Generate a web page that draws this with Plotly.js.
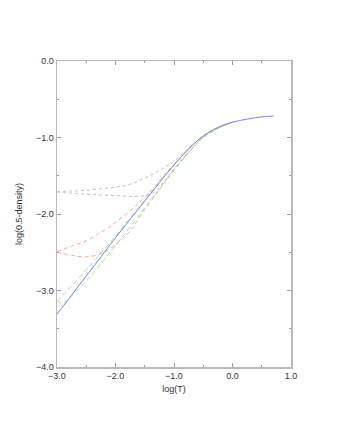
<!DOCTYPE html>
<html>
<head>
<meta charset="utf-8">
<script src="https://cdn.plot.ly/plotly-3.0.1.min.js"></script>
<style>
  body { margin: 0; background: #fff; }
  #chart { width: 341px; height: 441px; }
</style>
</head>
<body>
<div id="chart"></div>
<script>
// log(T) grid used by the curves
const logT = [-3.0, -2.75, -2.5, -2.25, -2.0, -1.75, -1.5, -1.25, -1.0, -0.75, -0.5, -0.25, 0.0];
const logTLong = [-3.0, -2.75, -2.5, -2.25, -2.0, -1.75, -1.5, -1.25, -1.0, -0.75, -0.5, -0.25, 0.0, 0.25, 0.5, 0.7];

// solid blue curve
const blueY = [-3.31, -3.06, -2.81, -2.56, -2.31, -2.07, -1.83, -1.59, -1.36, -1.15, -0.98, -0.87, -0.80, -0.76, -0.73, -0.72];

// gray curves
const grayUpperY = [-1.71, -1.70, -1.69, -1.67, -1.65, -1.61, -1.53, -1.43, -1.31, -1.14, -0.98, -0.87, -0.80];
const grayLowerX = [-3.0, -2.5, -2.0, -1.75, -1.5, -1.35, -1.25, -1.0, -0.75, -0.5, -0.25, 0.0];
const grayLowerY = [-1.71, -1.74, -1.76, -1.77, -1.76, -1.72, -1.65, -1.41, -1.19, -1.00, -0.88, -0.80];

// red dashed curves
const redUpperY = [-2.49, -2.42, -2.35, -2.24, -2.11, -1.96, -1.78, -1.57, -1.35, -1.15, -0.98, -0.87, -0.80];
const redLowerY = [-2.50, -2.54, -2.56, -2.52, -2.40, -2.22, -1.94, -1.68, -1.43, -1.20, -1.00, -0.88, -0.80];

// green dashed curves
const greenUpperY = [-3.14, -2.94, -2.73, -2.51, -2.29, -2.05, -1.82, -1.58, -1.36, -1.15, -0.98, -0.87, -0.80];
const greenLowerX = [-3.0, -2.9, -2.75, -2.5, -2.25, -2.0, -1.75, -1.5, -1.25, -1.0, -0.75, -0.5, -0.25, 0.0];
const greenLowerY = [-3.13, -3.17, -3.07, -2.88, -2.65, -2.41, -2.17, -1.92, -1.67, -1.42, -1.19, -1.00, -0.88, -0.80];

const xTicks = [-3, -2, -1, 0, 1];
const yTicks = [0, -1, -2, -3, -4];

function line(x, y, color, dash) {
    return {
        x: x, y: y, type: 'scatter', mode: 'lines',
        line: { color: color, width: 1, dash: dash, shape: 'spline', smoothing: 1 },
        hoverinfo: 'skip', showlegend: false
    };
}

const data = [
    line(logT, grayUpperY, '#c0c0c0', 'dot'),
    line(grayLowerX, grayLowerY, '#c0c0c0', 'dot'),
    line(logT, redUpperY, '#ffa4a4', '4px,3px'),
    line(logT, redLowerY, '#ffa4a4', '4px,3px'),
    line(logT, greenUpperY, '#90f090', '5px,3px'),
    line(greenLowerX, greenLowerY, '#90f090', '5px,3px'),
    line(logTLong, blueY, '#8080ff', 'solid')
];

const axisCommon = {
    showgrid: false,
    zeroline: false,
    showline: true,
    linecolor: '#b8b8b8',
    linewidth: 1.5,
    mirror: 'ticks',
    ticks: 'inside',
    ticklen: 4,
    tickcolor: '#999',
    tickwidth: 1,
    tickformat: '.1f',
    tickfont: { family: 'Liberation Sans, Arial, sans-serif', size: 9, color: '#333' },
    minor: { dtick: 0.5, ticks: 'inside', ticklen: 2, tickcolor: '#999', showgrid: false }
};

const layout = {
    width: 341,
    height: 441,
    margin: { l: 57, r: 50, t: 61, b: 74 },
    paper_bgcolor: '#fff',
    plot_bgcolor: '#fff',
    xaxis: Object.assign({}, axisCommon, {
        range: [-3, 1],
        tickvals: xTicks,
        title: { text: 'log(T)', standoff: 5, font: { family: 'Liberation Sans, Arial, sans-serif', size: 9, color: '#333' } }
    }),
    yaxis: Object.assign({}, axisCommon, {
        range: [-4, 0],
        tickvals: yTicks,
        title: { text: 'log(0.5-density)', standoff: 12, font: { family: 'Liberation Sans, Arial, sans-serif', size: 9, color: '#333' } }
    })
};

Plotly.newPlot('chart', data, layout, { displayModeBar: false, staticPlot: true });
</script>
</body>
</html>
